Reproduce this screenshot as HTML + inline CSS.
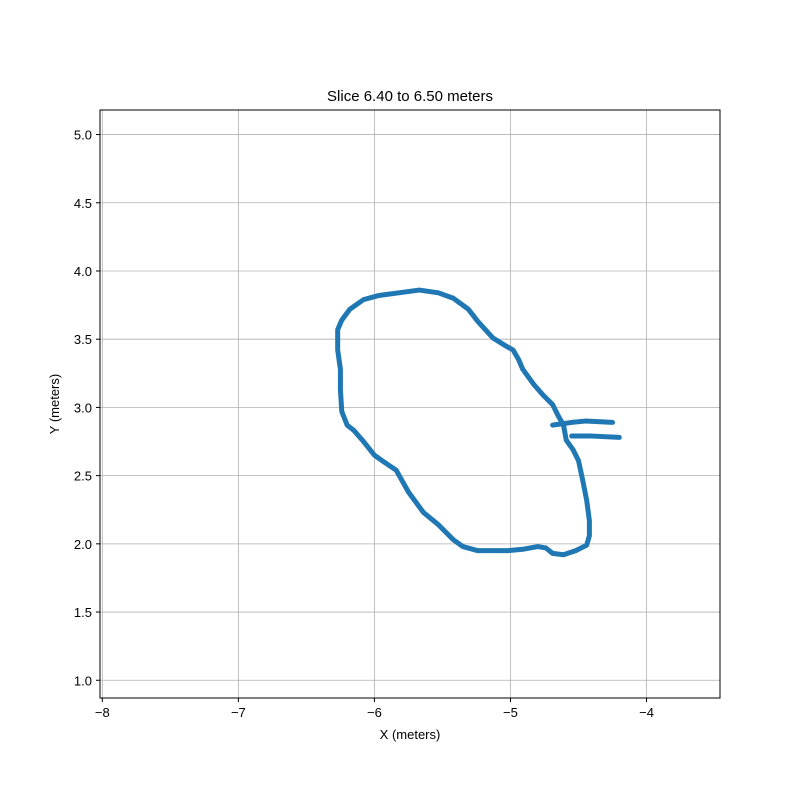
<!DOCTYPE html>
<html><head><meta charset="utf-8"><style>
body{margin:0;background:#fff}
svg{display:block;font-family:"Liberation Sans",sans-serif}
</style></head><body>
<svg id="chart" width="800" height="800" viewBox="0 0 800 800">
<rect x="0" y="0" width="800" height="800" fill="#fff"/>
<g id="grid"></g>
<g id="marks"></g>
<rect x="100" y="110" width="620" height="588" fill="none" stroke="#000" stroke-width="1"/>
<g id="ticks"></g>
<text x="410" y="101" text-anchor="middle" font-size="15">Slice 6.40 to 6.50 meters</text>
<text x="410" y="739" text-anchor="middle" font-size="13">X (meters)</text>
<text x="59" y="404" text-anchor="middle" font-size="13" transform="rotate(-90 59 404)">Y (meters)</text>
</svg>
<script>
const xTicks=[-8,-7,-6,-5,-4];
const yTicks=[1.0,1.5,2.0,2.5,3.0,3.5,4.0,4.5,5.0];
const outlineX=[-6.27,-6.24,-6.18,-6.08,-5.97,-5.82,-5.67,-5.53,-5.42,-5.31,-5.24,-5.13,-5.05,-4.98,-4.94,-4.91,-4.83,-4.76,-4.69,-4.65,-4.61,-4.59,-4.54,-4.50,-4.47,-4.44,-4.42,-4.42,-4.44,-4.52,-4.61,-4.69,-4.74,-4.80,-4.91,-5.02,-5.13,-5.24,-5.35,-5.42,-5.53,-5.64,-5.75,-5.84,-5.93,-6.00,-6.08,-6.15,-6.20,-6.24,-6.25,-6.25,-6.27,-6.27];
const outlineY=[3.57,3.64,3.72,3.79,3.82,3.84,3.86,3.84,3.80,3.72,3.63,3.51,3.46,3.42,3.35,3.28,3.17,3.09,3.02,2.94,2.87,2.76,2.69,2.61,2.47,2.32,2.17,2.06,1.99,1.95,1.92,1.93,1.97,1.98,1.96,1.95,1.95,1.95,1.98,2.03,2.14,2.23,2.38,2.54,2.60,2.65,2.75,2.83,2.87,2.97,3.13,3.28,3.42,3.57];
const armX=[-4.69,-4.55,-4.45,-4.25];
const armY=[2.87,2.89,2.90,2.89];
const arm2X=[-4.55,-4.40,-4.20];
const arm2Y=[2.79,2.79,2.78];
const X0=-8.017,X1=-3.46,Y0=0.87,Y1=5.18;
const sx=v=>100+(v-X0)/(X1-X0)*620;
const sy=v=>698-(v-Y0)/(Y1-Y0)*588;
const NS="http://www.w3.org/2000/svg";
const grid=document.getElementById('grid'),ticks=document.getElementById('ticks'),marks=document.getElementById('marks');
function mk(tag,attrs,parent){const e=document.createElementNS(NS,tag);for(const k in attrs)e.setAttribute(k,attrs[k]);parent.appendChild(e);return e;}
xTicks.forEach(v=>{const x=sx(v);
 const g=mk('line',{x1:x,x2:x,y1:110,y2:698,stroke:'#b0b0b0','stroke-width':0.8},grid);
 
 
 mk('line',{x1:x,x2:x,y1:698,y2:702,stroke:'#000'},ticks);
 const t=mk('text',{x:x,y:717,'text-anchor':'middle','font-size':13},ticks);t.textContent=(v<0?'\u2212'+(-v):v);
 
 
});
yTicks.forEach(v=>{const y=sy(v);
 const g=mk('line',{x1:100,x2:720,y1:y,y2:y,stroke:'#b0b0b0','stroke-width':0.8},grid);
 
 
 mk('line',{x1:96,x2:100,y1:y,y2:y,stroke:'#000'},ticks);
 const t=mk('text',{x:92,y:y+5,'text-anchor':'end','font-size':13},ticks);t.textContent=v.toFixed(1);
 
 
});
function drawLine(xs,ys,name){
 const pts=xs.map((v,i)=>sx(v)+','+sy(ys[i])).join(' ');
 const p=mk('polyline',{points:pts,fill:'none',stroke:'#1f77b4','stroke-width':5,'stroke-linejoin':'round','stroke-linecap':'round'},marks);
 
 
}
drawLine(outlineX,outlineY,'outline-points');
drawLine(armX,armY,'arm-upper-points');
drawLine(arm2X,arm2Y,'arm-lower-points');
</script>
</body></html>
